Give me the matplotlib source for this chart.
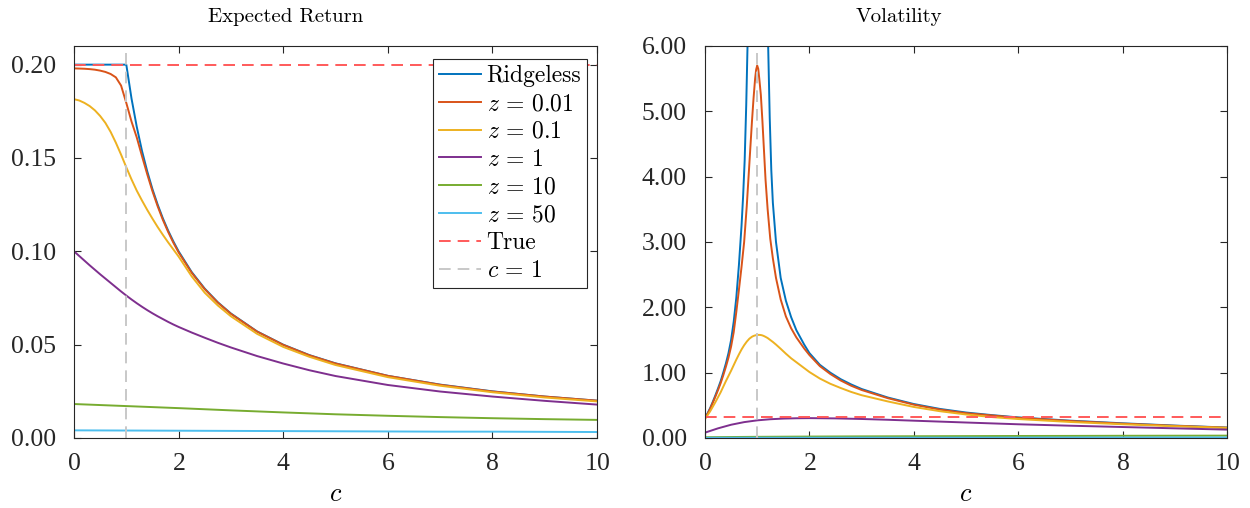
import numpy as np
import matplotlib.pyplot as plt
from matplotlib.ticker import FormatStrFormatter

plt.rcParams['mathtext.fontset'] = 'cm'
plt.rcParams['axes.formatter.use_mathtext'] = True

colors = ['#0072BD', '#D95319', '#EDB120', '#7E2F8E', '#77AC30', '#4DBEEE']
labels = ['Ridgeless', r'$z\,=\,0.01$', r'$z\,=\,0.1$', r'$z\,=\,1$', r'$z\,=\,10$', r'$z\,=\,50$']
true_color = '#FF5A5A'
ref_color = '#C8C8C8'

# expected return
c_er = [0, 0.1, 0.2, 0.3, 0.4, 0.5, 0.6, 0.7, 0.8, 0.9, 1.0,
        1.1, 1.2, 1.3, 1.4, 1.5, 1.6, 1.7, 1.8, 1.9, 2.0,
        2.25, 2.5, 2.75, 3, 3.5, 4, 4.5, 5, 6, 7, 8, 9, 10]
er_ridgeless = [0.2, 0.2, 0.2, 0.2, 0.2, 0.2, 0.2, 0.2, 0.2, 0.2, 0.2,
                0.1818, 0.1667, 0.1538, 0.1429, 0.1333, 0.125, 0.1176, 0.1111, 0.1053, 0.1,
                0.0889, 0.08, 0.0727, 0.0667, 0.0571, 0.05, 0.0444, 0.04, 0.0333, 0.0286, 0.025, 0.0222, 0.02]
er_z001 = [0.1980, 0.1979, 0.1978, 0.1976, 0.1973, 0.1968, 0.1961, 0.1950, 0.1932, 0.1888, 0.1795,
           0.1695, 0.1610, 0.1510, 0.1413, 0.1322, 0.1241, 0.1168, 0.1104, 0.1046, 0.0994,
           0.0885, 0.0797, 0.0725, 0.0665, 0.0570, 0.0499, 0.0443, 0.0399, 0.0333, 0.0285, 0.0249, 0.0222, 0.0200]
er_z01 = [0.1815, 0.1808, 0.1795, 0.1778, 0.1755, 0.1725, 0.1688, 0.1640, 0.1582, 0.1518, 0.1450,
          0.1385, 0.1325, 0.1272, 0.1222, 0.1175, 0.1130, 0.1088, 0.1048, 0.1010, 0.0972,
          0.0866, 0.0778, 0.0710, 0.0652, 0.0558, 0.0488, 0.0435, 0.0391, 0.0326, 0.0280, 0.0245, 0.0217, 0.0196]
er_z1 = [0.1000, 0.0975, 0.0950, 0.0925, 0.0901, 0.0877, 0.0854, 0.0831, 0.0808, 0.0785, 0.0763,
         0.0742, 0.0722, 0.0703, 0.0685, 0.0668, 0.0652, 0.0637, 0.0622, 0.0608, 0.0595,
         0.0565, 0.0537, 0.0510, 0.0485, 0.0439, 0.0399, 0.0363, 0.0332, 0.0284, 0.0249, 0.0222, 0.0199, 0.0179]
c_flat = [0, 1, 2, 3, 4, 5, 6, 7, 8, 9, 10]
er_z10 = [0.0182, 0.0171, 0.0160, 0.0148, 0.0137, 0.0127, 0.0119, 0.0112, 0.0106, 0.0101, 0.0097]
er_z50 = [0.0041, 0.0040, 0.0039, 0.0038, 0.0037, 0.0036, 0.0035, 0.0034, 0.0034, 0.0033, 0.0032]
er_true = 0.2

# volatility
c_vol_rl = [0, 0.05, 0.1, 0.15, 0.2, 0.25, 0.3, 0.35, 0.4, 0.45, 0.5, 0.55, 0.6, 0.65, 0.7,
            0.73, 0.76, 0.79, 0.82, 0.85,
            1.15, 1.18, 1.21, 1.24, 1.27, 1.3, 1.36, 1.45, 1.55, 1.65, 1.75, 1.9, 2.0, 2.2,
            2.4, 2.6, 2.8, 3.0, 3.5, 4.0, 4.5, 5.0, 5.5, 6.0, 7.0, 8.0, 9.0, 10.0]
vol_ridgeless = [0.31, 0.38, 0.46, 0.555, 0.655, 0.76, 0.87, 1.0, 1.14, 1.3, 1.5, 1.78, 2.15, 2.65, 3.25,
                 3.7, 4.25, 5.1, 6.2, 7.8,
                 9.5, 7.5, 6.0, 4.9, 4.1, 3.6, 3.0, 2.45, 2.1, 1.85, 1.65, 1.43, 1.30, 1.12,
                 1.0, 0.90, 0.82, 0.75, 0.62, 0.52, 0.445, 0.39, 0.35, 0.315, 0.265, 0.225, 0.19, 0.16]
c_vol = [0, 0.05, 0.1, 0.15, 0.2, 0.25, 0.3, 0.35, 0.4, 0.45, 0.5, 0.55, 0.6, 0.65, 0.7, 0.75,
         0.8, 0.85, 0.9, 0.93, 0.96, 0.98, 1.0, 1.02, 1.04, 1.07, 1.1, 1.13, 1.16, 1.2, 1.25,
         1.3, 1.36, 1.45, 1.55, 1.65, 1.75, 1.9, 2.0, 2.2, 2.4, 2.6, 2.8, 3.0, 3.5, 4.0, 4.5,
         5.0, 5.5, 6.0, 7.0, 8.0, 9.0, 10.0]
vol_z001 = [0.30, 0.37, 0.45, 0.54, 0.635, 0.735, 0.84, 0.96, 1.09, 1.23, 1.40, 1.62, 1.93, 2.27, 2.62, 3.0,
            3.55, 4.2, 4.85, 5.2, 5.5, 5.64, 5.70, 5.65, 5.5, 5.25, 4.85, 4.4, 3.95, 3.5, 3.05,
            2.75, 2.45, 2.12, 1.86, 1.68, 1.54, 1.37, 1.27, 1.10, 0.98, 0.88, 0.80, 0.735, 0.61, 0.51, 0.435,
            0.38, 0.345, 0.31, 0.26, 0.22, 0.187, 0.158]
vol_z01 = [0.29, 0.35, 0.41, 0.48, 0.55, 0.625, 0.70, 0.785, 0.87, 0.95, 1.03, 1.115, 1.20, 1.28, 1.355, 1.42,
           1.475, 1.52, 1.55, 1.562, 1.57, 1.574, 1.577, 1.578, 1.578, 1.576, 1.57, 1.56, 1.548, 1.53, 1.50,
           1.47, 1.43, 1.365, 1.29, 1.22, 1.16, 1.07, 1.01, 0.91, 0.83, 0.765, 0.705, 0.655, 0.56, 0.475, 0.41,
           0.36, 0.32, 0.29, 0.245, 0.21, 0.18, 0.155]
c_vol_z1 = [0, 0.25, 0.5, 0.75, 1.0, 1.25, 1.5, 1.75, 2.0, 2.5, 3, 3.5, 4, 5, 6, 7, 8, 9, 10]
vol_z1 = [0.082, 0.148, 0.203, 0.243, 0.27, 0.287, 0.297, 0.302, 0.304, 0.300, 0.291, 0.279, 0.265,
          0.237, 0.21, 0.188, 0.168, 0.148, 0.128]
vol_z10 = [0.012, 0.018, 0.022, 0.025, 0.027, 0.029, 0.031, 0.032, 0.034, 0.035, 0.036]
vol_z50 = [0.003, 0.004, 0.004, 0.005, 0.005, 0.006, 0.006, 0.007, 0.007, 0.008, 0.008]
vol_true = 0.32

fig = plt.figure(figsize=(12.5, 5.08), dpi=100)
ax1 = fig.add_axes([0.0592, 0.1378, 0.4184, 0.7717])
ax2 = fig.add_axes([0.564, 0.1378, 0.4176, 0.7717])

lw = 1.4
dash = (0, (6, 3.6))

er_series = [(c_er, er_ridgeless), (c_er, er_z001), (c_er, er_z01), (c_er, er_z1),
             (c_flat, er_z10), (c_flat, er_z50)]
for (xs, ys), col, lab in zip(er_series, colors, labels):
    ax1.plot(xs, ys, color=col, lw=lw, label=lab)
ax1.axhline(er_true, color=true_color, lw=lw, ls=dash, label='True')
ax1.axvline(1, color=ref_color, lw=lw, ls=dash, label=r'$c\,=\,1$')

vol_series = [(c_vol_rl, vol_ridgeless), (c_vol, vol_z001), (c_vol, vol_z01), (c_vol_z1, vol_z1),
              (c_flat, vol_z10), (c_flat, vol_z50)]
for (xs, ys), col in zip(vol_series, colors):
    ax2.plot(xs, ys, color=col, lw=lw)
ax2.axhline(vol_true, color=true_color, lw=lw, ls=dash)
ax2.axvline(1, color=ref_color, lw=lw, ls=dash)

ax1.set_ylim(0, 0.21)
ax1.set_yticks([0, 0.05, 0.1, 0.15, 0.2])
ax1.yaxis.set_major_formatter(FormatStrFormatter('%.2f'))
ax2.set_ylim(0, 6)
ax2.set_yticks([0, 1, 2, 3, 4, 5, 6])
ax2.yaxis.set_major_formatter(FormatStrFormatter('%.2f'))

for ax, title, tx in [(ax1, 'Expected Return', 0.405), (ax2, 'Volatility', 0.372)]:
    ax.set_xlim(0, 10)
    ax.set_xticks([0, 2, 4, 6, 8, 10])
    ax.tick_params(direction='in', top=True, right=True, length=5, width=0.8,
                   labelsize=18.5, colors='#262626')
    ax.tick_params(axis='y', pad=13)
    ax.tick_params(axis='x', pad=11)
    for lab in ax.get_xticklabels() + ax.get_yticklabels():
        lab.set_fontfamily('Liberation Serif')
    for sp in ax.spines.values():
        sp.set_color('#262626')
        sp.set_linewidth(0.8)
    ax.set_title(title, fontfamily='cmr10', fontsize=15, x=tx, pad=17)
    ax.set_xlabel(r'$c$', fontsize=19, labelpad=4)

leg = ax1.legend(loc='upper right', bbox_to_anchor=(0.99, 0.978),
                 prop={'family': 'cmr10', 'size': 17}, fancybox=False, framealpha=1,
                 edgecolor='#262626', handlelength=1.75, handletextpad=0.25,
                 labelspacing=0.24, borderpad=0.25, borderaxespad=0.2)
leg.get_frame().set_linewidth(0.8)

fig.savefig('out.png', dpi=100)
